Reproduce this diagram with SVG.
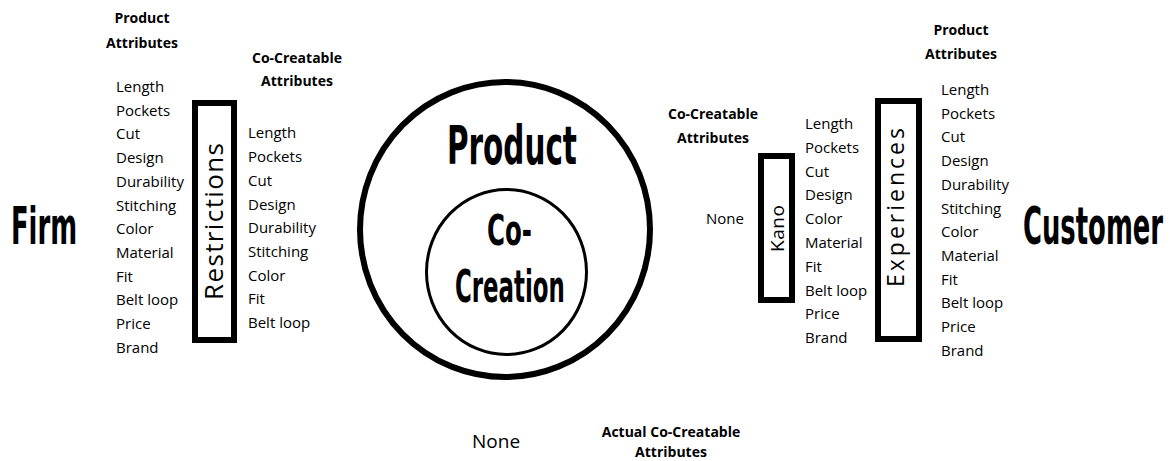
<svg xmlns="http://www.w3.org/2000/svg" width="1170" height="461" viewBox="0 0 1170 461">
<style>
.t{font-family:"Open Sans","Liberation Sans",sans-serif;font-size:15px;fill:#000}
.h{font-family:"Open Sans","Liberation Sans",sans-serif;font-size:14px;font-weight:bold;fill:#000;text-anchor:middle}
.big{font-family:"DejaVu Sans","Liberation Sans",sans-serif;font-weight:bold;fill:#000}
.box{fill:none;stroke:#000;stroke-width:6}
.rt{font-family:"Open Sans","Liberation Sans",sans-serif;fill:#000;text-anchor:middle}
</style>
<rect width="1170" height="461" fill="#fff"/>
<g id="firm">
<text class="big" transform="translate(11,244) scale(0.506,1)" font-size="51">Firm</text>
</g>
<g id="firm-product-attributes">
<text class="h" x="142" y="23">Product</text>
<text class="h" x="142" y="48">Attributes</text>
<text class="t" x="116" y="92">Length</text>
<text class="t" x="116" y="115.7">Pockets</text>
<text class="t" x="116" y="139.4">Cut</text>
<text class="t" x="116" y="163.1">Design</text>
<text class="t" x="116" y="186.8">Durability</text>
<text class="t" x="116" y="210.5">Stitching</text>
<text class="t" x="116" y="234.2">Color</text>
<text class="t" x="116" y="257.9">Material</text>
<text class="t" x="116" y="281.6">Fit</text>
<text class="t" x="116" y="305.3">Belt loop</text>
<text class="t" x="116" y="329">Price</text>
<text class="t" x="116" y="352.7">Brand</text>
</g>
<g id="restrictions">
<rect class="box" x="195" y="103" width="39" height="237"/>
<text class="rt" transform="translate(223,221.5) rotate(-90)" font-size="26" textLength="157" lengthAdjust="spacing">Restrictions</text>
</g>
<g id="firm-cocreatable">
<text class="h" x="297" y="63">Co-Creatable</text>
<text class="h" x="297" y="86">Attributes</text>
<text class="t" x="248" y="138.3">Length</text>
<text class="t" x="248" y="162">Pockets</text>
<text class="t" x="248" y="185.8">Cut</text>
<text class="t" x="248" y="209.5">Design</text>
<text class="t" x="248" y="233.2">Durability</text>
<text class="t" x="248" y="257">Stitching</text>
<text class="t" x="248" y="280.7">Color</text>
<text class="t" x="248" y="304.4">Fit</text>
<text class="t" x="248" y="328">Belt loop</text>
</g>
<g id="product">
<ellipse cx="505" cy="229.5" rx="145" ry="147.5" fill="none" stroke="#000" stroke-width="6"/>
<text class="big" transform="translate(447,164) scale(0.556,1)" font-size="53">Product</text>
</g>
<g id="co-creation">
<ellipse cx="506.5" cy="272" rx="80" ry="82.5" fill="none" stroke="#000" stroke-width="3"/>
<text class="big" transform="translate(487,245) scale(0.584,1)" font-size="42">Co-</text>
<text class="big" transform="translate(455,302) scale(0.509,1)" font-size="45">Creation</text>
</g>
<g id="customer-cocreatable">
<text class="h" x="713" y="119">Co-Creatable</text>
<text class="h" x="713" y="143">Attributes</text>
<text class="t" x="706" y="224">None</text>
</g>
<g id="kano">
<rect class="box" x="761" y="156" width="31" height="144"/>
<text class="rt" transform="translate(784,228.5) rotate(-90)" font-size="19" textLength="47" lengthAdjust="spacing">Kano</text>
</g>
<g id="kano-attributes">
<text class="t" x="805" y="129">Length</text>
<text class="t" x="805" y="152.8">Pockets</text>
<text class="t" x="805" y="176.6">Cut</text>
<text class="t" x="805" y="200.4">Design</text>
<text class="t" x="805" y="224.2">Color</text>
<text class="t" x="805" y="248">Material</text>
<text class="t" x="805" y="271.8">Fit</text>
<text class="t" x="805" y="295.6">Belt loop</text>
<text class="t" x="805" y="319.4">Price</text>
<text class="t" x="805" y="343.2">Brand</text>
</g>
<g id="experiences">
<rect class="box" x="878" y="101" width="41" height="238"/>
<text class="rt" transform="translate(904,207.5) rotate(-90)" font-size="23" textLength="159" lengthAdjust="spacing">Experiences</text>
</g>
<g id="customer-product-attributes">
<text class="h" x="961" y="35">Product</text>
<text class="h" x="961" y="59">Attributes</text>
<text class="t" x="941" y="95">Length</text>
<text class="t" x="941" y="118.7">Pockets</text>
<text class="t" x="941" y="142.4">Cut</text>
<text class="t" x="941" y="166.1">Design</text>
<text class="t" x="941" y="189.8">Durability</text>
<text class="t" x="941" y="213.5">Stitching</text>
<text class="t" x="941" y="237.2">Color</text>
<text class="t" x="941" y="260.9">Material</text>
<text class="t" x="941" y="284.6">Fit</text>
<text class="t" x="941" y="308.3">Belt loop</text>
<text class="t" x="941" y="332">Price</text>
<text class="t" x="941" y="355.7">Brand</text>
</g>
<g id="customer">
<text class="big" transform="translate(1023,244) scale(0.507,1)" font-size="51">Customer</text>
</g>
<g id="actual">
<text class="t" x="472" y="448" style="font-size:19px">None</text>
<text class="h" x="671" y="437">Actual Co-Creatable</text>
<text class="h" x="671" y="457">Attributes</text>
</g>
<g id="connectors"></g>
</svg>
